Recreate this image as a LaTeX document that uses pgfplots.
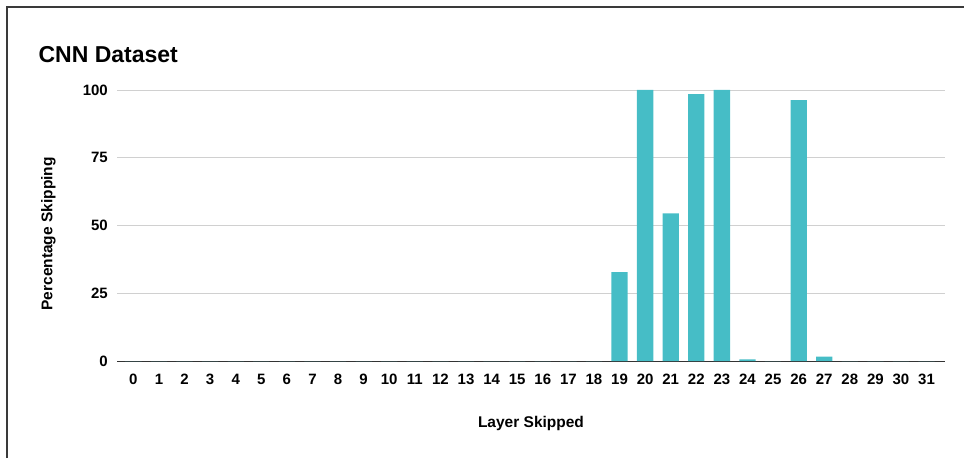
\documentclass[border=0pt]{standalone}
\usepackage{fontspec}
\setmainfont{Liberation Sans}
\usepackage{pgfplots}
\pgfplotsset{compat=1.18}
\definecolor{barc}{HTML}{46BDC6}
\definecolor{gridc}{HTML}{D0D0D0}
\definecolor{basec}{HTML}{333333}
\definecolor{framec}{HTML}{3A3A3A}
\begin{document}
\begin{tikzpicture}[x=1pt,y=1pt]
\useasboundingbox (0,0) rectangle (964,458);
\draw[framec, line width=1.5pt] (7,0) -- (7,451) -- (964,451);
\begin{axis}[
  at={(117pt,97pt)}, anchor=south west,
  scale only axis, width=828pt, height=271pt,
  xmin=-0.64, xmax=31.72, ymin=0, ymax=100,
  ybar, bar width=16.3pt,
  xtick={0,...,31}, ytick={0,25,50,75,100},
  major tick length=0pt,
  axis x line*=bottom, axis y line*=left,
  x axis line style={basec, line width=1pt, -},
  y axis line style={draw=none},
  ymajorgrids, grid style={gridc, line width=0.8pt},
  /pgf/number format/assume math mode=true,
  every x tick label/.style={font=\bfseries\fontsize{15}{18}\selectfont, anchor=base, inner sep=0pt, yshift=-23pt},
  every y tick label/.style={font=\bfseries\fontsize{15}{18}\selectfont, anchor=east, inner sep=0pt, xshift=-9pt},
  xlabel={Layer Skipped}, ylabel={Percentage Skipping},
  every axis x label/.style={at={(axis description cs:0.5,-0.245)}, anchor=base, font=\bfseries\fontsize{15.5}{18}\selectfont},
  every axis y label/.style={at={(axis description cs:-0.0781,0.469)}, rotate=90, anchor=base, font=\bfseries\fontsize{15.5}{18}\selectfont},
  title={CNN Dataset},
  every axis title/.style={at={(axis description cs:-0.0990,1.103)}, anchor=base west, font=\bfseries\fontsize{23}{27}\selectfont},
]
\addplot[fill=barc, draw=none] coordinates {
(0,0) (1,0) (2,0) (3,0) (4,0) (5,0) (6,0) (7,0) (8,0) (9,0)
(10,0) (11,0) (12,0) (13,0) (14,0) (15,0) (16,0) (17,0) (18,0)
(19,32.8) (20,100) (21,54.5) (22,98.5) (23,100) (24,0.6) (25,0)
(26,96.3) (27,1.6) (28,0) (29,0) (30,0) (31,0)
};
\end{axis}
\end{tikzpicture}
\end{document}
